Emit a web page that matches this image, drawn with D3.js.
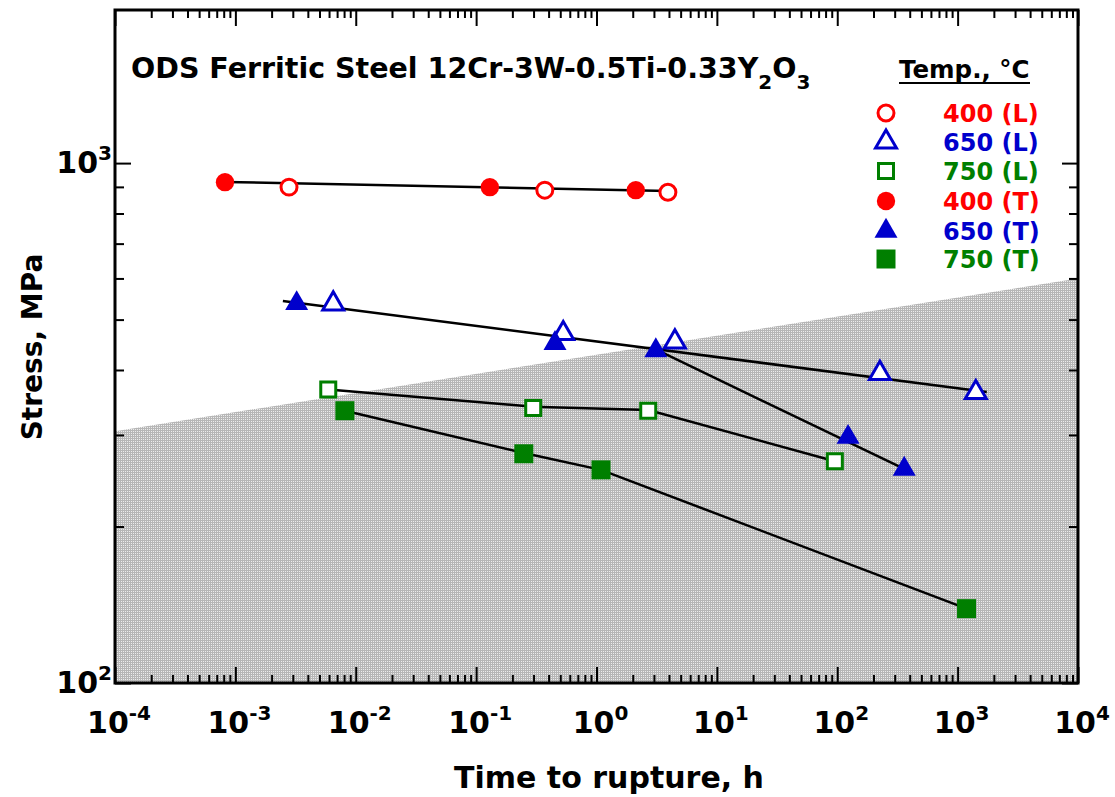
<!DOCTYPE html>
<html>
<head>
<meta charset="utf-8">
<script src="https://cdn.jsdelivr.net/npm/d3@7"></script>
<style>
  body { margin: 0; background: #fff; }
  text { font-family: "DejaVu Sans", Verdana, sans-serif; font-weight: bold; }
</style>
</head>
<body>
<div id="chart"></div>
<script>
// rupture data, time (h) and stress (MPa)
var t400L = [2.79e-3, 0.372, 3.92];
var s400L = [899, 887, 879];
var t400T = [8.2e-4, 0.130, 2.12];
var s400T = [919, 899, 887];
var t650L = [6.5e-3, 0.529, 4.48, 226, 1416];
var s650L = [536, 470, 453, 394, 362];
var t650T = [3.23e-3, 0.452, 3.11, 123, 360];
var s650T = [537, 450, 436, 297, 258];
var t750L = [5.91e-3, 0.298, 2.69, 95.5];
var s750L = [367, 338, 334, 267];
var t750T = [8.12e-3, 0.249, 1.09, 1186];
var s750T = [334, 276, 257, 139];

// drawn lines, [time, stress] vertices
var line400 = [[8.2e-4, 920], [3.92, 884]];
var line650a = [[2.48e-3, 543], [1746, 363]];
var line650b = [[3.11, 438], [360, 258]];
var line750L = [[5.91e-3, 367], [0.298, 340], [2.69, 335], [95.5, 267]];
var line750T = [[8.12e-3, 334], [0.249, 277], [1.09, 257], [1186, 139]];

// upper edge of shaded region
var shadeEdge = [[1e-4, 305], [1e4, 600]];

var xExp = [-4, -3, -2, -1, 0, 1, 2, 3, 4];
var yExp = [2, 3];

var legendLabels = ["400 (L)", "650 (L)", "750 (L)", "400 (T)", "650 (T)", "750 (T)"];

var width = 1115, height = 797;
var pLeft = 115, pRight = 1078, pTop = 10, pBottom = 683;

var svg = d3.select("#chart").append("svg")
    .attr("width", width)
    .attr("height", height);

var x = d3.scaleLog().domain([1e-4, 1e4]).range([pLeft, pRight]);
var y = d3.scaleLog().domain([100, 1970]).range([pBottom, pTop]);

var defs = svg.append("defs");
var pat = defs.append("pattern")
    .attr("id", "mesh")
    .attr("patternUnits", "userSpaceOnUse")
    .attr("width", 2).attr("height", 2);
pat.append("rect").attr("width", 2).attr("height", 2).attr("fill", "#ececec");
pat.append("rect").attr("width", 1).attr("height", 2).attr("fill", "#b6b6b6");
pat.append("rect").attr("width", 2).attr("height", 1).attr("fill", "#b6b6b6");

// shaded region
var shadeArea = d3.area()
    .x(function(d) { return x(d[0]); })
    .y0(pBottom)
    .y1(function(d) { return y(d[1]); });
svg.append("path")
    .datum(shadeEdge)
    .attr("d", shadeArea)
    .attr("fill", "url(#mesh)");

// lines
var line = d3.line()
    .x(function(d) { return x(d[0]); })
    .y(function(d) { return y(d[1]); });
[line400, line650a, line650b, line750L, line750T].forEach(function(l) {
    svg.append("path")
        .datum(l)
        .attr("d", line)
        .attr("fill", "none")
        .attr("stroke", "#000")
        .attr("stroke-width", 2.5);
});

var red = "#ff0000", blue = "#0000cc", green = "#007f00";

var styles = [
    {t: t400L, s: s400L, type: d3.symbolCircle, size: 200, color: red, open: true},
    {t: t650L, s: s650L, type: d3.symbolTriangle, size: 190, color: blue, open: true},
    {t: t750L, s: s750L, type: d3.symbolSquare, size: 225, color: green, open: true},
    {t: t400T, s: s400T, type: d3.symbolCircle, size: 265, color: red, open: false},
    {t: t650T, s: s650T, type: d3.symbolTriangle, size: 229, color: blue, open: false},
    {t: t750T, s: s750T, type: d3.symbolSquare, size: 361, color: green, open: false}
];

function styleMarker(sel, st) {
    sel.attr("d", d3.symbol().type(st.type).size(st.size))
        .attr("fill", st.open ? "#fff" : st.color)
        .attr("stroke", st.open ? st.color : "none")
        .attr("stroke-width", 3);
}

styles.forEach(function(st) {
    var pts = st.t.map(function(t, i) { return [t, st.s[i]]; });
    svg.append("g").selectAll("path")
        .data(pts)
        .enter()
        .append("path")
        .attr("transform", function(d) { return "translate(" + x(d[0]) + "," + y(d[1]) + ")"; })
        .call(styleMarker, st);
});

// axes, ticks inward on all four sides
var xMajor = xExp.map(function(e) { return Math.pow(10, e); });
var xMinor = [];
for (var e = -4; e < 4; e++) {
    for (var k = 2; k < 10; k++) xMinor.push(k * Math.pow(10, e));
}
var yMajor = yExp.map(function(e) { return Math.pow(10, e); });
var yMinor = [200, 300, 400, 500, 600, 700, 800, 900];

function drawAxis(axis, tr) {
    var g = svg.append("g").attr("transform", tr).call(axis);
    g.select(".domain").remove();
    g.selectAll("line").attr("stroke", "#000").attr("stroke-width", 2);
    g.selectAll("text").remove();
}

drawAxis(d3.axisBottom(x).tickValues(xMajor).tickSize(-16), "translate(0," + pBottom + ")");
drawAxis(d3.axisBottom(x).tickValues(xMinor).tickSize(-8), "translate(0," + pBottom + ")");
drawAxis(d3.axisTop(x).tickValues(xMajor).tickSize(-16), "translate(0," + pTop + ")");
drawAxis(d3.axisTop(x).tickValues(xMinor).tickSize(-8), "translate(0," + pTop + ")");
drawAxis(d3.axisLeft(y).tickValues(yMajor).tickSize(-16), "translate(" + pLeft + ",0)");
drawAxis(d3.axisLeft(y).tickValues(yMinor).tickSize(-9), "translate(" + pLeft + ",0)");
drawAxis(d3.axisRight(y).tickValues(yMajor).tickSize(-16), "translate(" + pRight + ",0)");
drawAxis(d3.axisRight(y).tickValues(yMinor).tickSize(-9), "translate(" + pRight + ",0)");

svg.append("rect")
    .attr("x", pLeft).attr("y", pTop)
    .attr("width", pRight - pLeft).attr("height", pBottom - pTop)
    .attr("fill", "none")
    .attr("stroke", "#000")
    .attr("stroke-width", 3);

// tick labels
xExp.forEach(function(e) {
    var t = svg.append("text")
        .attr("x", x(Math.pow(10, e)) + 4)
        .attr("y", 733)
        .attr("text-anchor", "middle")
        .attr("font-size", 30);
    t.append("tspan").text("10");
    t.append("tspan").attr("dy", -13).attr("font-size", 20).text(e);
});
yExp.forEach(function(e) {
    var t = svg.append("text")
        .attr("x", 112)
        .attr("y", y(Math.pow(10, e)) + 10)
        .attr("text-anchor", "end")
        .attr("font-size", 30);
    t.append("tspan").text("10");
    t.append("tspan").attr("dy", -13).attr("font-size", 20).text(e);
});

// axis titles
svg.append("text")
    .attr("x", 609).attr("y", 788)
    .attr("text-anchor", "middle")
    .attr("font-size", 30)
    .text("Time to rupture, h");
svg.append("text")
    .attr("transform", "translate(42,347) rotate(-90)")
    .attr("text-anchor", "middle")
    .attr("font-size", 28)
    .text("Stress, MPa");

// title
var title = svg.append("text")
    .attr("x", 131).attr("y", 78)
    .attr("font-size", 28.5);
title.append("tspan").text("ODS Ferritic Steel 12Cr-3W-0.5Ti-0.33Y");
title.append("tspan").attr("dy", 11).attr("font-size", 20).text("2");
title.append("tspan").attr("dy", -11).text("O");
title.append("tspan").attr("dy", 11).attr("font-size", 20).text("3");

// legend
svg.append("text")
    .attr("x", 899).attr("y", 78)
    .attr("font-size", 24.5)
    .text("Temp., \u00B0C");
svg.append("line")
    .attr("x1", 899).attr("x2", 1030)
    .attr("y1", 83).attr("y2", 83)
    .attr("stroke", "#000").attr("stroke-width", 2);

var legendY = [113, 142, 171, 201, 231, 259];
styles.forEach(function(st, i) {
    svg.append("path")
        .attr("transform", "translate(886," + legendY[i] + ")")
        .call(styleMarker, st);
    svg.append("text")
        .attr("x", 943).attr("y", legendY[i] + 9)
        .attr("font-size", 24)
        .attr("fill", st.color)
        .text(legendLabels[i]);
});
</script>
</body>
</html>
